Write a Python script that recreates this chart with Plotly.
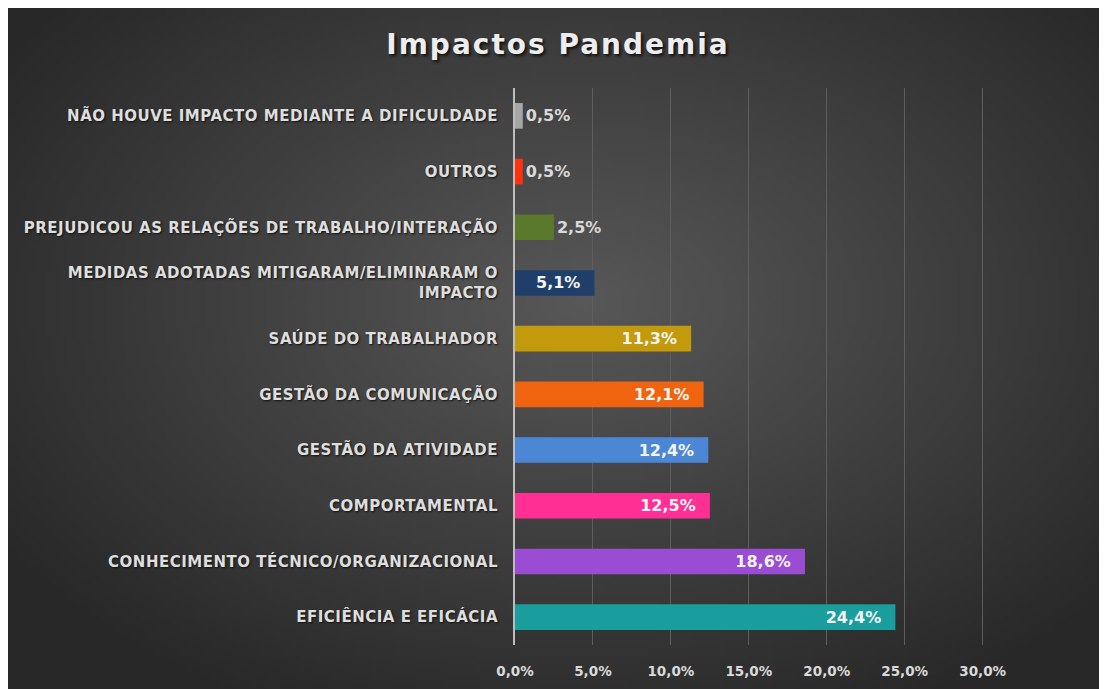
import base64
import struct
import zlib
import math
import plotly.graph_objects as go

# ---------------- data ----------------
categories = [
    "EFICIÊNCIA E EFICÁCIA",
    "CONHECIMENTO TÉCNICO/ORGANIZACIONAL",
    "COMPORTAMENTAL",
    "GESTÃO DA ATIVIDADE",
    "GESTÃO DA COMUNICAÇÃO",
    "SAÚDE DO TRABALHADOR",
    "MEDIDAS ADOTADAS MITIGARAM/ELIMINARAM O<br>IMPACTO",
    "PREJUDICOU AS RELAÇÕES DE TRABALHO/INTERAÇÃO",
    "OUTROS",
    "NÃO HOUVE IMPACTO MEDIANTE A DIFICULDADE",
]
values = [24.4, 18.6, 12.5, 12.4, 12.1, 11.3, 5.1, 2.5, 0.5, 0.5]
bar_colors = [
    "#199d9d", "#9a4cd2", "#ff2f94", "#4c87d6", "#f0640f",
    "#c39a0b", "#1f3e69", "#5a792c", "#ff3210", "#a6a6a6",
]
x_ticks = [0, 5, 10, 15, 20, 25, 30]
x_tick_labels = ["0,0%", "5,0%", "10,0%", "15,0%", "20,0%", "25,0%", "30,0%"]
chart_title = "Impactos Pandemia"

# ---------------- layout geometry ----------------
# the page adds an 8px body margin, so figure coords = page coords - 8
OFF = 8
W, H = 1107, 689
ML = 515 - OFF
MT = 88 - OFF
PW = 470
PH = 645 - 88
MR = W - ML - PW
MB = H - MT - PH


# ---------------- background gradient image (decoration only) ----------------
def gradient_png(w, h):
    rows = []
    for j in range(h):
        py = OFF + j * (H / h)
        row = bytearray([0])
        for i in range(w):
            px = OFF + i * (W / w)
            dx = (px - 580) / 700
            dy = (py - 300) / 460
            d = math.sqrt(dx * dx + dy * dy)
            v = 40 + (88 - 40) * max(0.0, 1 - d)
            row.append(int(v))
        rows.append(bytes(row))
    raw = b"".join(rows)

    def chunk(tag, data):
        return (struct.pack(">I", len(data)) + tag + data
                + struct.pack(">I", zlib.crc32(tag + data) & 0xFFFFFFFF))

    png = b"\x89PNG\r\n\x1a\n"
    png += chunk(b"IHDR", struct.pack(">IIBBBBB", w, h, 8, 0, 0, 0, 0))
    png += chunk(b"IDAT", zlib.compress(raw, 9))
    png += chunk(b"IEND", b"")
    return "data:image/png;base64," + base64.b64encode(png).decode()


bg_src = gradient_png(221, 138)

inside_mask = [v >= 5 for v in values]
text_pos = ["inside" if m else "outside" for m in inside_mask]
text_tpl = ["%{x:.1f}%\u00a0\u00a0" if m else "%{x:.1f}%" for m in inside_mask]
text_col = ["#f4f4f4" if m else "#d9d9d9" for m in inside_mask]

fig = go.Figure()
fig.add_trace(go.Bar(
    y=categories,
    x=values,
    orientation="h",
    marker=dict(color=bar_colors, line=dict(width=0)),
    width=0.46,
    texttemplate=text_tpl,
    textposition=text_pos,
    insidetextanchor="end",
    textfont=dict(family="DejaVu Sans", size=16, color=text_col, weight="bold"),
    cliponaxis=False,
    hoverinfo="skip",
))

fig.update_layout(
    width=W,
    height=H,
    margin=dict(l=ML, r=MR, t=MT, b=MB, pad=0),
    paper_bgcolor="#ffffff",
    plot_bgcolor="rgba(0,0,0,0)",
    separators=",.",
    showlegend=False,
    title=dict(
        text=chart_title,
        x=(558 - OFF) / W,
        xanchor="center",
        y=1 - (44 - OFF) / H,
        yanchor="middle",
        font=dict(family="DejaVu Sans", size=28, color="#ededed", weight="bold",
                  shadow="2px 2px 3px #111111"),
    ),
    images=[dict(
        source=bg_src,
        xref="paper", yref="paper",
        x=-ML / PW, y=1 + MT / PH,
        sizex=W / PW, sizey=H / PH,
        xanchor="left", yanchor="top",
        sizing="stretch",
        layer="below",
    )],
    xaxis=dict(
        range=[0, 30.15],
        tickvals=x_ticks,
        ticktext=x_tick_labels,
        showgrid=True,
        gridcolor="#5e5e5e",
        gridwidth=1,
        zeroline=False,
        showline=False,
        ticks="",
        ticklabelstandoff=16,
        tickfont=dict(family="DejaVu Sans", size=13.5, color="#dadada", weight="bold"),
        fixedrange=True,
    ),
    yaxis=dict(
        categoryorder="array",
        categoryarray=categories,
        showgrid=False,
        zeroline=False,
        showline=True,
        linecolor="#bdbdbd",
        linewidth=2,
        ticks="",
        ticklabelstandoff=12,
        tickfont=dict(family="DejaVu Sans", size=15, color="#dedede", weight="bold",
                      shadow="1px 1px 2px #111111"),
        fixedrange=True,
    ),
)

post_js = (
    "var gd=document.getElementById('{plot_id}');"
    "gd.querySelectorAll('.gtitle').forEach(function(t){t.style.letterSpacing='2px';});"
    "gd.querySelectorAll('.ytick text').forEach(function(t){t.style.letterSpacing='0.5px';});"
)

fig.write_html("out.html", post_script=post_js)
